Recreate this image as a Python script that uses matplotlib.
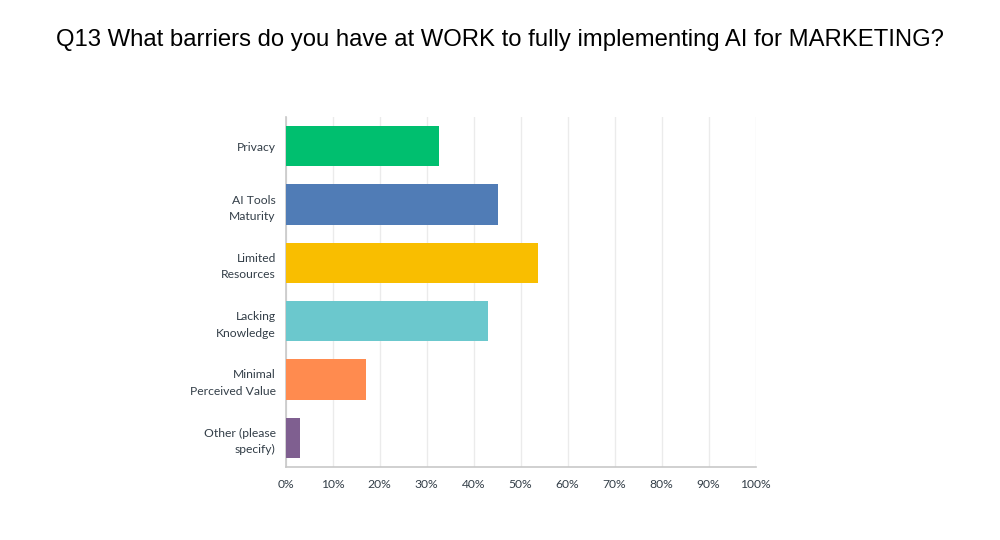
import matplotlib
matplotlib.use("Agg")
import matplotlib.pyplot as plt
from matplotlib.ticker import MultipleLocator, FuncFormatter

categories = ["Privacy", "AI Tools\nMaturity", "Limited\nResources", "Lacking\nKnowledge",
              "Minimal\nPerceived Value", "Other (please\nspecify)"]
values = [32.7, 45.2, 53.7, 43.0, 17.2, 3.1]
colors = ["#00bf6f", "#507cb6", "#f9be00", "#6bc8cd", "#ff8b4f", "#7f5f90"]
title = "Q13 What barriers do you have at WORK to fully implementing AI for MARKETING?"

fig = plt.figure(figsize=(10, 5.4), dpi=100)
ax = fig.add_axes([0.2855, 1 - 467 / 540, 0.470, 350 / 540])

y = list(range(len(categories)))
ax.barh(y, values, color=colors, height=0.686, zorder=3)
ax.set_ylim(len(categories) - 0.5, -0.5)
ax.set_xlim(0, 100)
ax.xaxis.set_major_locator(MultipleLocator(10))
ax.xaxis.set_major_formatter(FuncFormatter(lambda v, p: f"{int(v)}%"))
ax.grid(axis="x", color="#ebebeb", linewidth=1, zorder=0)
ax.set_yticks(y)
ax.set_yticklabels(categories, fontfamily="Lato", fontsize=8.7, color="#333e48", ha="right",
                   linespacing=1.6)
for lbl in ax.get_xticklabels():
    lbl.set_fontfamily("Lato")
    lbl.set_fontsize(8.7)
    lbl.set_color("#333e48")
ax.tick_params(axis="both", length=0)
ax.tick_params(axis="y", pad=7)
ax.tick_params(axis="x", pad=9)
for s in ["top", "right"]:
    ax.spines[s].set_visible(False)
for s in ["left", "bottom"]:
    ax.spines[s].set_color("#c8c8c8")
    ax.spines[s].set_linewidth(1.2)

fig.text(0.5, 1 - 40 / 540, title, ha="center", va="center", fontsize=17.2,
         fontfamily="Liberation Sans", color="#000000")

fig.savefig("out.png", dpi=100, facecolor="white")
